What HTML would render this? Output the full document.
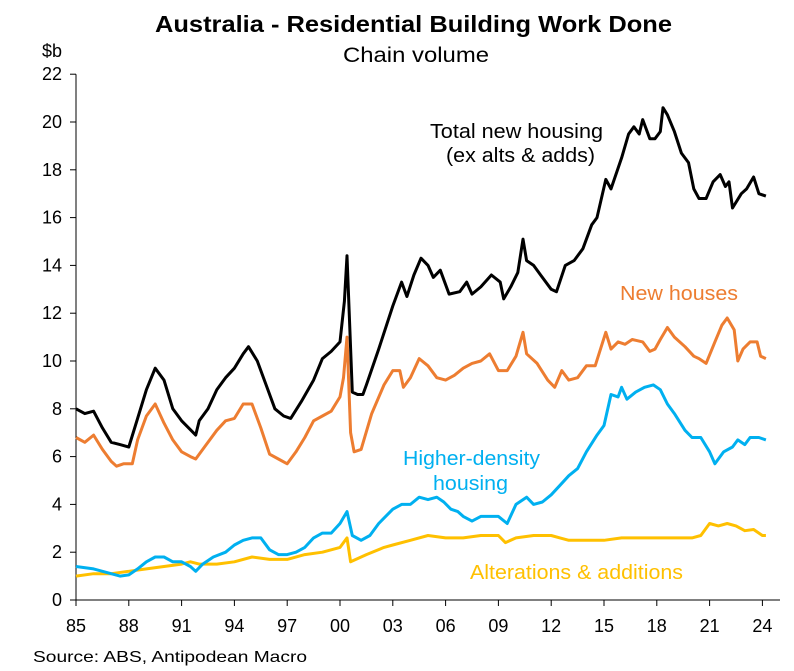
<!DOCTYPE html>
<html><head><meta charset="utf-8"><style>
body{margin:0;background:#fff;font-family:"Liberation Sans",Arial,sans-serif}
svg{display:block}
</style></head><body>
<svg id="c" width="794" height="671">
<text x="155" y="32" font-size="23" font-weight="bold" textLength="517" lengthAdjust="spacingAndGlyphs">Australia - Residential Building Work Done</text>
<text x="343" y="62" font-size="21" textLength="146" lengthAdjust="spacingAndGlyphs">Chain volume</text>
<text x="42" y="57" font-size="18">$b</text>
<text x="33" y="662" font-size="16" textLength="274" lengthAdjust="spacingAndGlyphs">Source: ABS, Antipodean Macro</text>
<text x="430" y="138" font-size="20" textLength="173" lengthAdjust="spacingAndGlyphs" fill="#000">Total new housing</text>
<text x="446" y="162" font-size="20" textLength="149" lengthAdjust="spacingAndGlyphs" fill="#000">(ex alts &amp; adds)</text>
<text x="620" y="300" font-size="20" textLength="118" lengthAdjust="spacingAndGlyphs" fill="#ED7D31">New houses</text>
<text x="403" y="465" font-size="20" textLength="137" lengthAdjust="spacingAndGlyphs" fill="#00B0F0">Higher-density</text>
<text x="433" y="490" font-size="20" textLength="75" lengthAdjust="spacingAndGlyphs" fill="#00B0F0">housing</text>
<text x="470" y="579" font-size="20" textLength="213" lengthAdjust="spacingAndGlyphs" fill="#FFC000">Alterations &amp; additions</text>
</svg>
<script>
const yTicks=[0,2,4,6,8,10,12,14,16,18,20,22];
const xTickYears=[1985,1988,1991,1994,1997,2000,2003,2006,2009,2012,2015,2018,2021,2024];
const xTickLabels=["85","88","91","94","97","00","03","06","09","12","15","18","21","24"];
const totalX=[1985,1985.5,1986,1986.5,1987,1987.5,1988,1988.5,1989,1989.5,1990,1990.5,1991,1991.8,1992,1992.5,1993,1993.5,1994,1994.5,1994.8,1995.3,1995.8,1996.3,1996.8,1997.2,1997.8,1998.5,1999,1999.5,2000,2000.1,2000.25,2000.4,2000.7,2001.0,2001.3,2001.5,2002.2,2003,2003.5,2003.8,2004.2,2004.6,2005,2005.3,2005.7,2006.2,2006.8,2007.2,2007.5,2008,2008.6,2009.1,2009.3,2009.7,2010.1,2010.4,2010.6,2011.0,2011.4,2012,2012.3,2012.8,2013.3,2013.8,2014.3,2014.6,2015.1,2015.4,2016,2016.4,2016.7,2017.0,2017.2,2017.6,2017.9,2018.2,2018.35,2018.6,2019,2019.4,2019.8,2020.1,2020.4,2020.8,2021.2,2021.6,2021.9,2022.1,2022.3,2022.8,2023.1,2023.5,2023.8,2024.2];
const totalV=[8.0,7.8,7.9,7.2,6.6,6.5,6.4,7.6,8.8,9.7,9.2,8.0,7.5,6.9,7.5,8.0,8.8,9.3,9.7,10.3,10.6,10.0,9.0,8.0,7.7,7.6,8.3,9.2,10.1,10.4,10.8,11.5,12.5,14.4,8.7,8.6,8.6,9.0,10.5,12.3,13.3,12.7,13.6,14.3,14.0,13.5,13.8,12.8,12.9,13.3,12.8,13.1,13.6,13.3,12.6,13.1,13.7,15.1,14.2,14.0,13.6,13.0,12.9,14.0,14.2,14.7,15.7,16.0,17.6,17.2,18.5,19.5,19.8,19.5,20.1,19.3,19.3,19.6,20.6,20.3,19.6,18.7,18.3,17.2,16.8,16.8,17.5,17.8,17.3,17.5,16.4,17.0,17.2,17.7,17.0,16.9];
const housesX=[1985,1985.5,1986,1986.5,1987,1987.3,1987.7,1988.2,1988.5,1989,1989.5,1990,1990.5,1991,1991.5,1991.8,1992.3,1993,1993.5,1994,1994.5,1995,1995.5,1996,1996.5,1997,1997.5,1998,1998.5,1999,1999.5,2000,2000.2,2000.4,2000.6,2000.8,2001.2,2001.8,2002.5,2003,2003.4,2003.6,2004,2004.5,2005,2005.5,2006,2006.5,2007,2007.5,2008,2008.5,2009,2009.5,2010,2010.4,2010.6,2011.2,2011.8,2012.2,2012.6,2013,2013.5,2014,2014.5,2015.1,2015.4,2015.8,2016.2,2016.6,2017.2,2017.6,2017.9,2018.2,2018.6,2019,2019.6,2020.1,2020.4,2020.8,2021.3,2021.7,2022.0,2022.4,2022.6,2022.9,2023.3,2023.7,2023.9,2024.2];
const housesV=[6.8,6.6,6.9,6.3,5.8,5.6,5.7,5.7,6.7,7.7,8.2,7.4,6.7,6.2,6.0,5.9,6.4,7.1,7.5,7.6,8.2,8.2,7.2,6.1,5.9,5.7,6.2,6.8,7.5,7.7,7.9,8.5,9.3,11.0,7.0,6.2,6.3,7.8,9.0,9.6,9.6,8.9,9.3,10.1,9.8,9.3,9.2,9.4,9.7,9.9,10.0,10.3,9.6,9.6,10.2,11.2,10.3,9.9,9.2,8.9,9.6,9.2,9.3,9.8,9.8,11.2,10.5,10.8,10.7,10.9,10.8,10.4,10.5,10.9,11.4,11.0,10.6,10.2,10.1,9.9,10.8,11.5,11.8,11.3,10.0,10.5,10.8,10.8,10.2,10.1];
const densityX=[1985,1986,1987,1987.5,1988,1988.5,1989,1989.5,1990,1990.5,1991,1991.5,1991.8,1992.2,1992.8,1993.5,1994,1994.5,1995,1995.5,1996,1996.5,1997,1997.5,1998,1998.5,1999,1999.5,2000,2000.4,2000.7,2001.2,2001.7,2002.2,2003,2003.5,2004,2004.5,2005,2005.5,2005.9,2006.3,2006.7,2007,2007.5,2008,2008.5,2009,2009.5,2010,2010.6,2011,2011.5,2012,2012.5,2013,2013.5,2014,2014.6,2015,2015.4,2015.8,2016.0,2016.3,2016.8,2017.3,2017.8,2018.2,2018.6,2019.0,2019.6,2020,2020.5,2021,2021.3,2021.8,2022.3,2022.6,2023,2023.3,2023.8,2024.2];
const densityV=[1.4,1.3,1.1,1.0,1.05,1.3,1.6,1.8,1.8,1.6,1.6,1.4,1.2,1.5,1.8,2.0,2.3,2.5,2.6,2.6,2.1,1.9,1.9,2.0,2.2,2.6,2.8,2.8,3.2,3.7,2.7,2.5,2.7,3.2,3.8,4.0,4.0,4.3,4.2,4.3,4.1,3.8,3.7,3.5,3.3,3.5,3.5,3.5,3.2,4.0,4.3,4.0,4.1,4.4,4.8,5.2,5.5,6.2,6.9,7.3,8.6,8.5,8.9,8.4,8.7,8.9,9.0,8.8,8.2,7.8,7.1,6.8,6.8,6.2,5.7,6.2,6.4,6.7,6.5,6.8,6.8,6.7];
const altsX=[1985,1986,1987,1988,1989,1990,1991,1991.5,1992,1993,1994,1995,1996,1997,1998,1999,2000,2000.4,2000.6,2001.5,2002.5,2003,2004,2005,2006,2007,2008,2009,2009.4,2010,2011,2012,2012.5,2013,2014,2015,2016,2017,2018,2019,2020,2020.5,2021,2021.5,2022,2022.5,2023,2023.5,2024,2024.2];
const altsV=[1.0,1.1,1.1,1.2,1.3,1.4,1.5,1.6,1.5,1.5,1.6,1.8,1.7,1.7,1.9,2.0,2.2,2.6,1.6,1.9,2.2,2.3,2.5,2.7,2.6,2.6,2.7,2.7,2.4,2.6,2.7,2.7,2.6,2.5,2.5,2.5,2.6,2.6,2.6,2.6,2.6,2.7,3.2,3.1,3.2,3.1,2.9,2.95,2.7,2.7];

const NS="http://www.w3.org/2000/svg";
const svg=document.getElementById('c');
const X0=76,Y0=600,PXYR=17.6,PXU=23.9;
const xs=yr=>X0+(yr-1985)*PXYR;
const ys=v=>Y0-v*PXU;
function mk(tag,attrs){const e=document.createElementNS(NS,tag);for(const k in attrs)e.setAttribute(k,attrs[k]);svg.appendChild(e);return e;}
const ya=mk('line',{x1:X0,y1:ys(22),x2:X0,y2:Y0,stroke:'#000','stroke-width':1});


const xa=mk('line',{x1:X0,y1:Y0,x2:780,y2:Y0,stroke:'#000','stroke-width':1});


yTicks.forEach(v=>{
 const t=mk('line',{x1:X0-6,y1:ys(v),x2:X0,y2:ys(v),stroke:'#000'});
 
 
 const l=mk('text',{x:X0-14,y:ys(v)+6,'text-anchor':'end','font-size':18});
 l.textContent=v;
 
 
});
xTickYears.forEach((yr,i)=>{
 const t=mk('line',{x1:xs(yr),y1:Y0,x2:xs(yr),y2:Y0+6,stroke:'#000'});
 
 
 const l=mk('text',{x:xs(yr),y:Y0+32,'text-anchor':'middle','font-size':18});
 l.textContent=xTickLabels[i];
 
 
});
function series(xArr,vArr,color,name){
 const d=xArr.map((x,i)=>(i?'L':'M')+xs(x).toFixed(1)+','+ys(vArr[i]).toFixed(1)).join(' ');
 const p=mk('path',{d:d,fill:'none',stroke:color,'stroke-width':3,'stroke-linejoin':'round'});
 
 
}
series(altsX,altsV,'#FFC000','line-alterations');
series(densityX,densityV,'#00B0F0','line-higher-density');
series(housesX,housesV,'#ED7D31','line-new-houses');
series(totalX,totalV,'#000000','line-total-new-housing');
</script>
</body></html>
